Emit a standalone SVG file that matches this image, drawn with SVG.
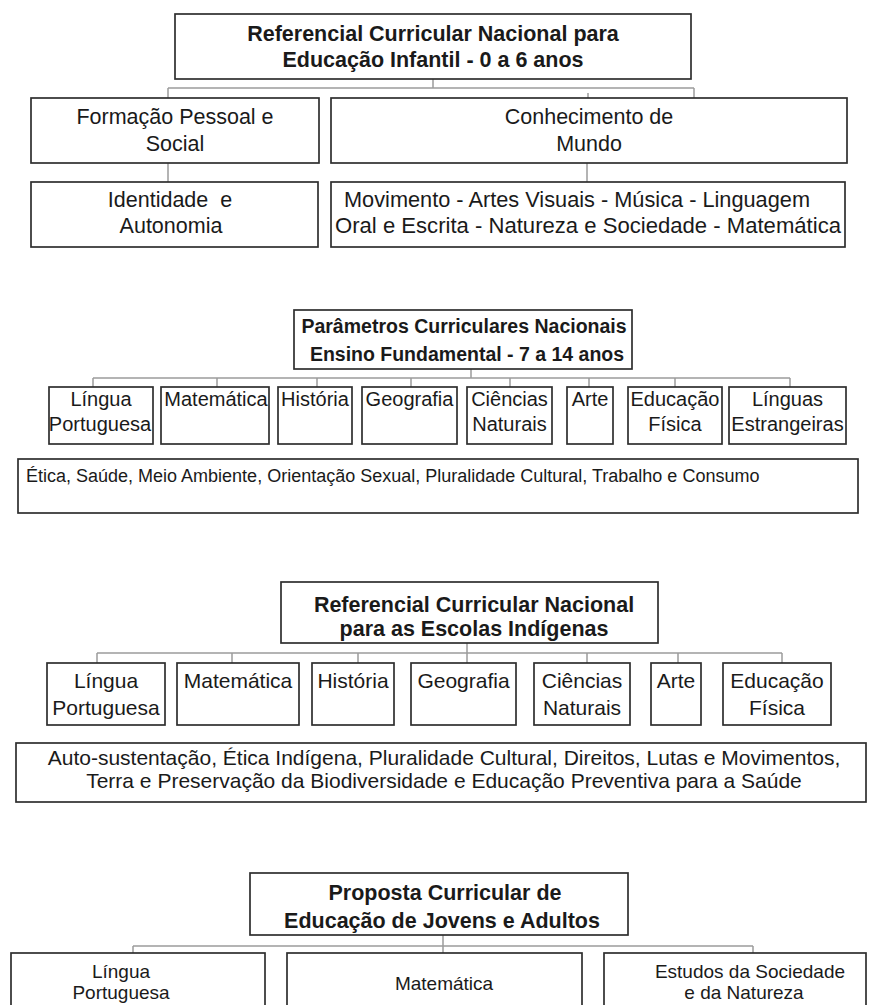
<svg xmlns="http://www.w3.org/2000/svg" width="869" height="1005" viewBox="0 0 869 1005">
<style>
.box{fill:#fff;stroke:#2e2e2e;stroke-width:1.7}
.ln{stroke:#9c9c9c;stroke-width:1.5;fill:none}
text{font-family:"Liberation Sans",Arial,sans-serif;fill:#1a1a1a;text-anchor:middle}
.b{font-weight:bold}
.s1{font-size:21.5px}
.s2{font-size:19.5px}
.s3{font-size:21px}
.s4{font-size:20px}
.s5{font-size:19px}
.e{font-size:18px;text-anchor:start}
</style>
<rect width="869" height="1005" fill="#fff"/>

<g id="connectors">
<path class="ln" d="M433 79V88M168 88H694M168 88V98M694 88V98M588 93V98M168 163V182M587 163V182"/>
<path class="ln" d="M471 369V378M93 378H790M93 378V387M217 378V387M317 378V387M411 378V387M510 378V387M589 378V387M675 378V387M790 378V387"/>
<path class="ln" d="M467 643V663M97 653H782M97 653V663M232 653V663M358 653V663M587 653V663M678 653V663M782 653V663"/>
<path class="ln" d="M443 935V953M133 946H753M133 946V953M753 946V953"/>
</g>

<g id="rcnei">
<rect class="box" x="175" y="14" width="516" height="65"/>
<text class="b s1" x="433" y="41">Referencial Curricular Nacional para</text>
<text class="b s1" x="433" y="67">Educação Infantil - 0 a 6 anos</text>
</g>
<g id="formacao">
<rect class="box" x="31" y="98" width="288" height="65"/>
<text class="s1" x="175" y="124">Formação Pessoal e</text>
<text class="s1" x="175" y="151">Social</text>
</g>
<g id="conhecimento">
<rect class="box" x="331" y="98" width="516" height="65"/>
<text class="s1" x="589" y="124">Conhecimento de</text>
<text class="s1" x="589" y="151">Mundo</text>
</g>
<g id="identidade">
<rect class="box" x="31" y="182" width="287" height="65"/>
<text class="s1" x="170" y="207" xml:space="preserve">Identidade  e</text>
<text class="s1" x="171" y="233">Autonomia</text>
</g>
<g id="movimento">
<rect class="box" x="331" y="182" width="514" height="65"/>
<text class="s1" x="344" y="207" style="text-anchor:start" textLength="466" lengthAdjust="spacingAndGlyphs">Movimento - Artes Visuais - Música - Linguagem</text>
<text class="s1" x="335" y="233" style="text-anchor:start" textLength="506" lengthAdjust="spacingAndGlyphs">Oral e Escrita - Natureza e Sociedade - Matemática</text>
</g>

<g id="pcn">
<rect class="box" x="294" y="310" width="338" height="59"/>
<text class="b s2" x="464" y="333">Parâmetros Curriculares Nacionais</text>
<text class="b s2" x="467" y="361">Ensino Fundamental - 7 a 14 anos</text>
</g>
<g id="pcn-lp">
<rect class="box" x="49" y="387" width="104" height="57"/>
<text class="s4" x="101" y="406">Língua</text>
<text class="s4" x="100" y="431">Portuguesa</text>
</g>
<g id="pcn-mat">
<rect class="box" x="161" y="387" width="108" height="57"/>
<text class="s4" x="216" y="406">Matemática</text>
</g>
<g id="pcn-hist">
<rect class="box" x="278" y="387" width="74" height="57"/>
<text class="s4" x="315" y="406">História</text>
</g>
<g id="pcn-geo">
<rect class="box" x="362" y="387" width="95" height="57"/>
<text class="s4" x="409.5" y="406">Geografia</text>
</g>
<g id="pcn-cien">
<rect class="box" x="467" y="387" width="85" height="57"/>
<text class="s4" x="509.5" y="406">Ciências</text>
<text class="s4" x="509.5" y="431">Naturais</text>
</g>
<g id="pcn-arte">
<rect class="box" x="567" y="387" width="46" height="57"/>
<text class="s4" x="590" y="406">Arte</text>
</g>
<g id="pcn-edf">
<rect class="box" x="628" y="387" width="94" height="57"/>
<text class="s4" x="675" y="406">Educação</text>
<text class="s4" x="675" y="431">Física</text>
</g>
<g id="pcn-le">
<rect class="box" x="729" y="387" width="117" height="57"/>
<text class="s4" x="787.5" y="406">Línguas</text>
<text class="s4" x="787.5" y="431">Estrangeiras</text>
</g>
<g id="pcn-temas">
<rect class="box" x="18" y="459" width="840" height="54"/>
<text class="e" x="26" y="482">Ética, Saúde, Meio Ambiente, Orientação Sexual, Pluralidade Cultural, Trabalho e Consumo</text>
</g>

<g id="rcnei-ind">
<rect class="box" x="281" y="582" width="377" height="61"/>
<text class="b s1" x="474" y="612">Referencial Curricular Nacional</text>
<text class="b s1" x="474" y="636">para as Escolas Indígenas</text>
</g>
<g id="ind-lp">
<rect class="box" x="47" y="663" width="118" height="62"/>
<text class="s3" x="106" y="688">Língua</text>
<text class="s3" x="106" y="715">Portuguesa</text>
</g>
<g id="ind-mat">
<rect class="box" x="177" y="663" width="122" height="62"/>
<text class="s3" x="238" y="688">Matemática</text>
</g>
<g id="ind-hist">
<rect class="box" x="312" y="663" width="82" height="62"/>
<text class="s3" x="353" y="688">História</text>
</g>
<g id="ind-geo">
<rect class="box" x="411" y="663" width="105" height="62"/>
<text class="s3" x="463.5" y="688">Geografia</text>
</g>
<g id="ind-cien">
<rect class="box" x="534" y="663" width="96" height="62"/>
<text class="s3" x="582" y="688">Ciências</text>
<text class="s3" x="582" y="715">Naturais</text>
</g>
<g id="ind-arte">
<rect class="box" x="651" y="663" width="50" height="62"/>
<text class="s3" x="676" y="688">Arte</text>
</g>
<g id="ind-edf">
<rect class="box" x="723" y="663" width="108" height="62"/>
<text class="s3" x="777" y="688">Educação</text>
<text class="s3" x="777" y="715">Física</text>
</g>
<g id="ind-temas">
<rect class="box" x="16" y="743" width="850" height="59"/>
<text class="s3" x="444" y="765">Auto-sustentação, Ética Indígena, Pluralidade Cultural, Direitos, Lutas e Movimentos,</text>
<text class="s3" x="444" y="788">Terra e Preservação da Biodiversidade e Educação Preventiva para a Saúde</text>
</g>

<g id="eja">
<rect class="box" x="250" y="873" width="378" height="62"/>
<text class="b s1" x="445" y="900">Proposta Curricular de</text>
<text class="b s1" x="442" y="928">Educação de Jovens e Adultos</text>
</g>
<g id="eja-lp">
<rect class="box" x="11" y="953" width="254" height="80"/>
<text class="s5" x="121" y="978">Língua</text>
<text class="s5" x="121" y="999">Portuguesa</text>
</g>
<g id="eja-mat">
<rect class="box" x="287" y="953" width="295" height="80"/>
<text class="s5" x="444" y="990">Matemática</text>
</g>
<g id="eja-est">
<rect class="box" x="604" y="953" width="262" height="80"/>
<text class="s5" x="750" y="978">Estudos da Sociedade</text>
<text class="s5" x="744" y="999">e da Natureza</text>
</g>
</svg>
